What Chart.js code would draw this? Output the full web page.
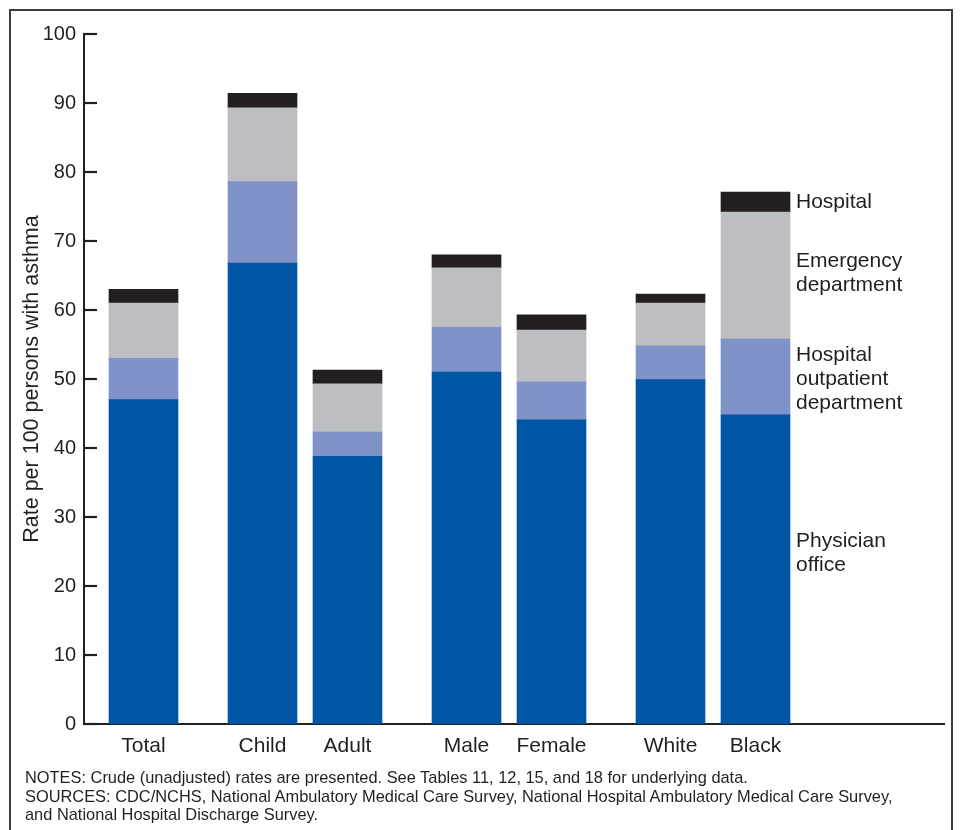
<!DOCTYPE html>
<html>
<head>
<meta charset="utf-8">
<script src="https://cdn.jsdelivr.net/npm/chart.js@4"></script>
<style>
  html, body { margin: 0; padding: 0; background: #fff; }
  body { width: 961px; height: 830px; position: relative; overflow: hidden;
         font-family: "Liberation Sans", Arial, Helvetica, sans-serif; color: #231F20; }
  #frame { position: absolute; left: 9px; top: 9px; width: 944px; height: 850px;
           border: 2px solid #3c3c3c; box-sizing: border-box; }
  #wrap { position: absolute; left: 0; top: 0; width: 961px; height: 770px; }
  #notes { position: absolute; left: 25px; top: 768px; font-size: 16.4px; line-height: 18.5px; }
</style>
</head>
<body>
<div id="frame"></div>
<div id="wrap"><canvas id="c" width="961" height="770"></canvas></div>
<div id="notes">NOTES: Crude (unadjusted) rates are presented. See Tables 11, 12, 15, and 18 for underlying data.<br>SOURCES: CDC/NCHS, National Ambulatory Medical Care Survey, National Hospital Ambulatory Medical Care Survey,<br>and National Hospital Discharge Survey.</div>
<script>
// Category groups (gaps appear between groups)
const categoryGroups = [["Total"], ["Child", "Adult"], ["Male", "Female"], ["White", "Black"]];
const categories = ["Total", "Child", "Adult", "Male", "Female", "White", "Black"];
// Series values (rate per 100 persons with asthma)
const physicianOffice = [47.0, 66.8, 38.8, 51.0, 44.1, 49.9, 44.8];
const hospitalOutpatient = [6.0, 11.8, 3.5, 6.5, 5.5, 4.9, 11.0];
const emergencyDept = [8.0, 10.7, 7.0, 8.6, 7.5, 6.2, 18.4];
const hospital = [2.0, 2.1, 2.0, 1.9, 2.2, 1.3, 2.9];
const yTicks = [0, 10, 20, 30, 40, 50, 60, 70, 80, 90, 100];
const seriesLabels = [["Physician", "office"], ["Hospital", "outpatient", "department"], ["Emergency", "department"], ["Hospital"]];

// x positions: 1 unit within a group, 1.4 between groups
const GROUP_GAP = 0.4;
const xPos = [];
(function () {
  let p = 0, first = true;
  categoryGroups.forEach(g => {
    if (!first) p += GROUP_GAP;
    g.forEach(() => { if (!first) p += 1; xPos.push(p); first = false; });
  });
})();

const INK = "#231F20";
const FONT = '"Liberation Sans", Arial, Helvetica, sans-serif';
const colors = ["#0055A5", "#7F93C8", "#BDBEC2", "#231F20"];
const seriesData = [physicianOffice, hospitalOutpatient, emergencyDept, hospital];
const BAR_W = 69;

const datasets = seriesData.map((arr, i) => ({
  label: seriesLabels[i].join(" "),
  data: arr.map((v, j) => ({ x: xPos[j], y: v })),
  backgroundColor: colors[i],
  borderWidth: 0,
  barThickness: BAR_W
}));

const inwardTicks = {
  id: "inwardTicks",
  afterDraw(chart) {
    const y = chart.scales.y, ctx = chart.ctx;
    const left = chart.chartArea.left;
    ctx.save();
    ctx.strokeStyle = INK;
    ctx.lineWidth = 2.2;
    yTicks.forEach(v => {
      const py = Math.round(y.getPixelForValue(v));
      ctx.beginPath();
      ctx.moveTo(left - 1, py);
      ctx.lineTo(left + 13, py);
      ctx.stroke();
    });
    ctx.restore();
  }
};

const sideLabels = {
  id: "sideLabels",
  afterDraw(chart) {
    const ctx = chart.ctx;
    const last = categories.length - 1;
    const y = chart.scales.y;
    const bar = chart.getDatasetMeta(0).data[last];
    const x = bar.x + BAR_W / 2 + 6;
    ctx.save();
    ctx.fillStyle = INK;
    ctx.font = "21px " + FONT;
    ctx.textAlign = "left";
    ctx.textBaseline = "middle";
    let base = 0;
    const lh = 24;
    const offsets = [-16, 2, -2, 0];
    seriesData.forEach((arr, i) => {
      const lo = base, hi = base + arr[last];
      base = hi;
      const mid = (y.getPixelForValue(lo) + y.getPixelForValue(hi)) / 2 + offsets[i];
      const lines = seriesLabels[i];
      lines.forEach((t, k) => {
        ctx.fillText(t, x, mid + (k - (lines.length - 1) / 2) * lh);
      });
    });
    ctx.restore();
  }
};

new Chart(document.getElementById("c"), {
  type: "bar",
  data: { datasets },
  plugins: [inwardTicks, sideLabels],
  options: {
    responsive: false,
    animation: false,
    events: [],
    layout: { padding: { left: 0, top: 34, right: 17, bottom: 6 } },
    plugins: { legend: { display: false }, tooltip: { enabled: false } },
    scales: {
      x: {
        type: "linear",
        stacked: true,
        offset: false,
        bounds: "ticks",
        min: xPos[0] - 0.7,
        max: xPos[0] - 0.7 + 860 / 85,
        afterBuildTicks(scale) { scale.ticks = xPos.map(v => ({ value: v })); },
        afterFit(scale) { scale.height = 40; },
        grid: { display: false, drawTicks: false, offset: false },
        border: { display: true, color: INK, width: 2 },
        ticks: {
          autoSkip: false, maxRotation: 0, padding: 10,
          color: INK, font: { family: FONT, size: 21 },
          callback(v) { const i = xPos.findIndex(p => Math.abs(p - v) < 1e-6); return i >= 0 ? categories[i] : ""; }
        }
      },
      y: {
        stacked: true,
        min: 0, max: 100,
        afterBuildTicks(scale) { scale.ticks = yTicks.map(v => ({ value: v })); },
        afterFit(scale) { scale.width = 84; },
        grid: { display: false, drawTicks: false },
        border: { display: true, color: INK, width: 2 },
        ticks: { padding: 8, color: INK, font: { family: FONT, size: 20 } },
        title: {
          display: true, text: "Rate per 100 persons with asthma",
          color: INK, font: { family: FONT, size: 21.5 }, padding: { top: 19, bottom: 0 }
        }
      }
    }
  }
});
</script>
</body>
</html>
